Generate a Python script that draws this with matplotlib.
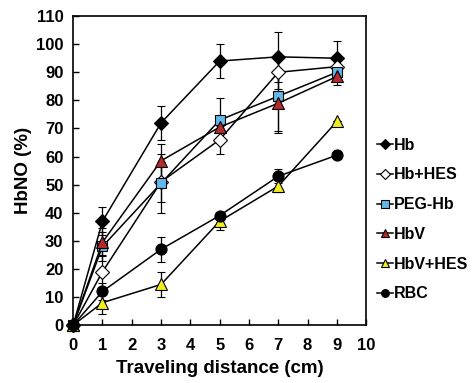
import numpy as np
import matplotlib
matplotlib.use("Agg")
import matplotlib.pyplot as plt
from matplotlib.lines import Line2D

plt.rcParams['font.family'] = ['Liberation Sans', 'DejaVu Sans']
plt.rcParams['font.weight'] = 'bold'
plt.rcParams['axes.labelweight'] = 'bold'

# Traveling distance (cm)
distance = [0, 1, 3, 5, 7, 9]

# HbNO (%) per group
hb = [0, 37, 72, 94, 95.5, 95]
hb_err = [0, 5, 6, 6, 9, 6]
hb_hes = [0, 19, 51, 66, 90, 92]
hb_hes_err = [0, 6, 7, 5, 6, 3]
peg_hb = [0, 28, 50.5, 73, 81.5, 90]
peg_hb_err = [0, 5, 10.5, 8, 13, 3]
hbv = [0, 29.5, 58.5, 70.5, 79, 88.5]
hbv_err = [0, 5, 6, 4, 10, 3]
hbv_hes = [0, 8, 14.5, 37, 49.5, 72.5]
hbv_hes_err = [0, 4, 4.5, 3, 2, 0]
rbc = [0, 12, 27, 39, 53, 60.5]
rbc_err = [0, 3, 4.5, 1, 2.5, 0]

series = [
    ("Hb", hb, hb_err, "D", "black", 7),
    ("Hb+HES", hb_hes, hb_hes_err, "D", "white", 7),
    ("PEG-Hb", peg_hb, peg_hb_err, "s", "#62b8ea", 7.5),
    ("HbV", hbv, hbv_err, "^", "#b52a2a", 8.5),
    ("HbV+HES", hbv_hes, hbv_hes_err, "^", "#f2ee1e", 8.5),
    ("RBC", rbc, rbc_err, "o", "black", 8),
]

fig = plt.figure(figsize=(4.75, 3.83), dpi=100)
ax = fig.add_axes([0.154, 0.151, 0.617, 0.807])

handles = []
for name, vals, err, mk, fc, ms in series:
    ax.errorbar(distance, vals, yerr=err, color="black", lw=1.1,
                marker=mk, markerfacecolor=fc, markeredgecolor="black",
                markeredgewidth=0.8, markersize=ms, capsize=3,
                elinewidth=0.9, capthick=0.9, clip_on=False)
    handles.append(Line2D([], [], color="black", lw=1.1, marker=mk,
                          markerfacecolor=fc, markeredgecolor="black",
                          markeredgewidth=0.8, markersize=ms * 0.7, label=name))

ax.set_xlim(0, 10)
ax.set_ylim(0, 110)
ax.set_xticks(range(0, 11))
ax.set_yticks(range(0, 111, 10))
ax.tick_params(direction="in", labelsize=12, length=4, width=1, pad=7)
ax.tick_params(axis="x", pad=9)
for s in ax.spines.values():
    s.set_linewidth(1.2)

ax.set_xlabel("Traveling distance (cm)", fontsize=13.5, labelpad=5)
ax.set_ylabel("HbNO (%)", fontsize=13.5, labelpad=3)

ax.legend(handles=handles, loc="upper left", bbox_to_anchor=(1.0, 0.64),
          frameon=False, fontsize=11.5, handlelength=1.0, handletextpad=0.1,
          labelspacing=0.92, borderaxespad=0.25)

fig.savefig("out.png", dpi=100)
